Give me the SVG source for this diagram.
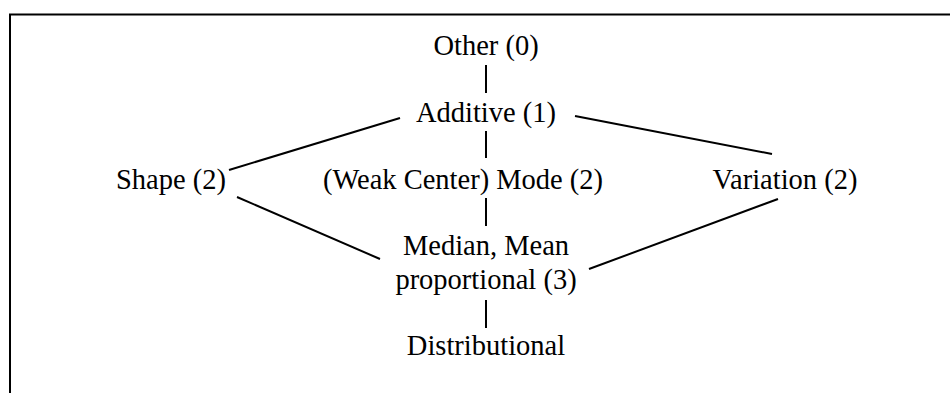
<svg xmlns="http://www.w3.org/2000/svg" width="950" height="393" viewBox="0 0 950 393">
<style>
text{font-family:"Liberation Serif","Times New Roman",serif;font-size:28.5px;fill:#000;text-anchor:middle}
.c line{stroke:#000;stroke-width:2;fill:none}
.frame{stroke:#000;fill:none}
</style>
<rect width="950" height="393" fill="#fff"/>
<line class="frame" x1="9" y1="14.5" x2="950" y2="14.5" stroke-width="2"/>
<line class="frame" x1="10" y1="14" x2="10" y2="393" stroke-width="2"/>
<g class="c" id="connectors">
<line x1="486" y1="65" x2="486" y2="93"/>
<line x1="486" y1="131" x2="486" y2="158"/>
<line x1="486" y1="198" x2="486" y2="226"/>
<line x1="486" y1="300" x2="486" y2="328"/>
<line x1="400" y1="118" x2="229" y2="170"/>
<line x1="237" y1="197" x2="380" y2="259"/>
<line x1="575" y1="116" x2="772" y2="154"/>
<line x1="778" y1="199" x2="589" y2="269"/>
</g>
<g id="other"><text x="486" y="55">Other (0)</text></g>
<g id="additive"><text x="486" y="122">Additive (1)</text></g>
<g id="shape"><text x="171" y="189">Shape (2)</text></g>
<g id="mode"><text x="463" y="189">(Weak Center) Mode (2)</text></g>
<g id="variation"><text x="785" y="189">Variation (2)</text></g>
<g id="median"><text x="486" y="255">Median, Mean</text><text x="486" y="289">proportional (3)</text></g>
<g id="distributional"><text x="486" y="355">Distributional</text></g>
</svg>
